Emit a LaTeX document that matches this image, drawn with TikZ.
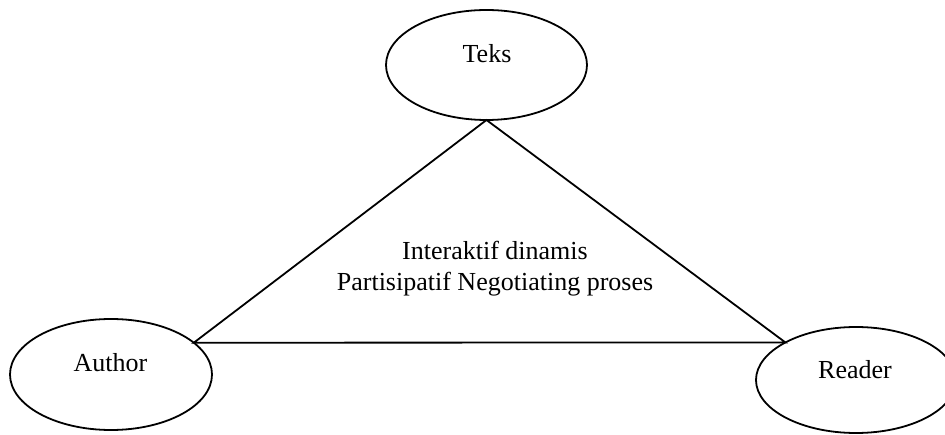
\documentclass[tikz,border=0pt]{standalone}
\usepackage{fontspec}
\setmainfont{Liberation Serif}
\usetikzlibrary{shapes.geometric}
\begin{document}
\begin{tikzpicture}[x=1pt,y=-1pt,
  bubble/.style={ellipse,draw,line width=1.8pt,inner sep=0pt,outer sep=0pt},
  lbl/.style={anchor=base,inner sep=0pt,font=\fontsize{26}{31}\selectfont},
  edge/.style={line width=1.8pt}]
  \useasboundingbox (0,0) rectangle (945,435);
  \clip (0,0) rectangle (945,435);
  % the three parties of the reading process
  \node[bubble,minimum width=201pt,minimum height=110pt] (teks) at (486.5,65) {};
  \node[bubble,minimum width=202pt,minimum height=111pt] (author) at (111,374.5) {};
  \node[bubble,minimum width=200pt,minimum height=106pt] (reader) at (856,380) {};
  \node[lbl] (teksText) at (487,63) {Teks};
  \node[lbl] (authorText) at (110.5,372) {Author};
  \node[lbl] (readerText) at (855,379) {Reader};
  % triangle joining them
  \draw[edge] (teks.south) -- (author.21.6) -- (reader.152.5) -- cycle;
  % description inside the triangle
  \node[lbl] (mid1) at (495,260) {Interaktif dinamis};
  \node[lbl] (mid2) at (495,291) {Partisipatif Negotiating proses};
\end{tikzpicture}
\end{document}
